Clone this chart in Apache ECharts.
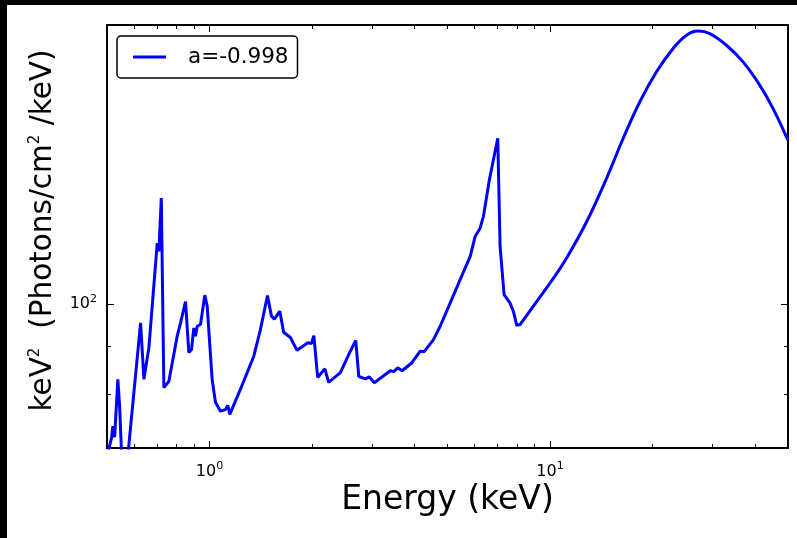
<!DOCTYPE html>
<html>
<head>
<meta charset="utf-8">
<script src="https://cdn.jsdelivr.net/npm/echarts@6/dist/echarts.min.js"></script>
<style>
    html, body { margin: 0; padding: 0; background: #000; }
    #main { position: absolute; left: 7px; top: 5px; width: 790px; height: 533px; background: #fff; }
</style>
</head>
<body>
<div id="main"></div>
<script>
var seriesName = 'a=-0.998';

// energy (keV) and keV^2 flux
var energy = [0.505, 0.516, 0.520, 0.5265, 0.538, 0.5445, 0.5546, 0.5697, 0.6275, 0.6417,
    0.6637, 0.7023, 0.710, 0.7218, 0.7345, 0.7597, 0.8038, 0.8222, 0.8503, 0.8696,
    0.8856, 0.8994, 0.9097, 0.9203, 0.941, 0.9687, 0.9846, 1.018, 1.041, 1.077,
    1.114, 1.132, 1.147, 1.233, 1.349, 1.411, 1.480, 1.520, 1.551, 1.609,
    1.651, 1.728, 1.808, 1.945, 1.992, 2.025, 2.078, 2.182, 2.238, 2.423,
    2.592, 2.689, 2.744, 2.868, 2.946, 3.047, 3.396, 3.476, 3.571, 3.681,
    3.930, 4.157, 4.271, 4.548, 4.758, 5.09, 5.446, 5.83, 6.026, 6.233,
    6.375, 6.637, 7.024, 7.135, 7.330, 7.632, 7.805, 7.985, 8.166, 10.0,
    11.19, 12.82, 14.67, 16.41, 18.36, 20.55, 22.99, 25.17, 27.22, 29.46,
    32.98, 36.89, 41.29, 45.17, 49.9];
var flux = [69.5, 71.9, 73.9, 71.9, 83.0, 77.7, 66, 66, 95.5, 83.0,
    89.8, 116.4, 114.0, 130.2, 81.3, 82.6, 92.4, 95.5, 100.7, 88.7,
    89.4, 94.3, 92.4, 94.7, 95.1, 102.3, 99.5, 83.0, 78.4, 76.7,
    77.0, 77.8, 76.1, 81.0, 87.9, 93.9, 102.2, 97.1, 96.4, 98.3,
    93.3, 92.1, 89.2, 90.9, 90.7, 92.5, 83.4, 85.2, 82.4, 84.4,
    89.0, 91.4, 83.6, 83.1, 83.5, 82.3, 84.8, 84.6, 85.4, 84.8,
    86.5, 89.0, 88.9, 91.6, 94.7, 100.3, 106.3, 112.6, 118.3, 120.8,
    124.4, 136.2, 151.0, 115.5, 102.4, 100.3, 98.3, 94.9, 95.1, 105.4,
    112.2, 122.8, 136.8, 151.0, 165.3, 178.1, 188.7, 195.0, 197.0, 195.8,
    190.2, 182.5, 172.3, 162.6, 150.4];

// the line (no sharp features) is smooth from this energy on
var smoothFrom = 10.0;

var xMajorTicks = [1, 10];
var xMinorTicks = [0.6, 0.7, 0.8, 0.9, 2, 3, 4, 5, 6, 7, 8, 9, 20, 30, 40];
var yMajorTicks = [100];
var yMinorTicks = [80, 90];
var xMin = 0.5, xMax = 50, yMin = 70, yMax = 200;

var font = 'DejaVu Sans';
var supRich = {
    b: {fontSize: 16, color: '#000', fontFamily: font},
    s: {fontSize: 11, color: '#000', fontFamily: font, padding: [0, 0, 10, 0]}
};

function powLabel(v) {
    return '{b|10}{s|' + Math.round(Math.log(v) / Math.LN10) + '}';
}

function xAxisOf(position, ticks, len, withLabel) {
    return {
        type: 'log', logBase: 10, min: xMin, max: xMax, position: position,
        axisLine: {show: false},
        splitLine: {show: false},
        axisTick: {inside: true, length: len, customValues: ticks, lineStyle: {color: '#000', width: 1}},
        axisLabel: withLabel ? {customValues: ticks, formatter: powLabel, rich: supRich, margin: 13}
            : {show: false}
    };
}

function yAxisOf(position, ticks, len, withLabel) {
    return {
        type: 'log', logBase: 10, min: yMin, max: yMax, position: position,
        axisLine: {show: false},
        splitLine: {show: false},
        axisTick: {inside: true, length: len, customValues: ticks, lineStyle: {color: '#000', width: 1}},
        axisLabel: withLabel ? {customValues: ticks, formatter: powLabel, rich: supRich, margin: 10}
            : {show: false}
    };
}

var xBottom = xAxisOf('bottom', xMajorTicks, 7, true);
xBottom.name = 'Energy (keV)';
xBottom.nameLocation = 'middle';
xBottom.nameGap = 32;
xBottom.nameTextStyle = {fontSize: 33, color: '#000', fontFamily: font};

var yLeft = yAxisOf('left', yMajorTicks, 7, true);
yLeft.name = 'keV{s|2}  (Photons/cm{s|2} /keV)';
yLeft.nameLocation = 'middle';
yLeft.nameGap = 47;
yLeft.nameTextStyle = {
    fontSize: 29.5, color: '#000', fontFamily: font, padding: [0, 0, 0, 12],
    rich: {s: {fontSize: 15, color: '#000', fontFamily: font, padding: [0, 0, 17, 0]}}
};

var sharpPart = [], smoothPart = [];
energy.forEach(function (e, i) {
    if (e <= smoothFrom) sharpPart.push([e, flux[i]]);
    if (e >= smoothFrom) smoothPart.push([e, flux[i]]);
});

var lineStyle = {color: '#0000ff', width: 3};

var chart = echarts.init(document.getElementById('main'));
chart.setOption({
    animation: false,
    backgroundColor: '#fff',
    grid: {left: 100, top: 20, width: 681, height: 423, show: true, borderColor: '#000', borderWidth: 2},
    legend: {
        left: 110, top: 31,
        padding: [10, 9, 10, 16],
        borderColor: '#000', borderWidth: 1.5, borderRadius: 4, backgroundColor: '#fff',
        icon: 'rect', itemWidth: 33, itemHeight: 3,
        textStyle: {fontSize: 21.5, color: '#000', fontFamily: font, padding: [0, 0, 0, 17]},
        data: [seriesName]
    },
    xAxis: [
        xBottom,
        xAxisOf('bottom', xMinorTicks, 4, false),
        xAxisOf('top', xMajorTicks, 7, false),
        xAxisOf('top', xMinorTicks, 4, false)
    ],
    yAxis: [
        yLeft,
        yAxisOf('left', yMinorTicks, 4, false),
        yAxisOf('right', yMajorTicks, 7, false),
        yAxisOf('right', yMinorTicks, 4, false)
    ],
    series: [{
        name: seriesName,
        type: 'line',
        data: sharpPart,
        symbol: 'none',
        clip: true,
        lineStyle: lineStyle,
        itemStyle: {color: '#0000ff'}
    }, {
        name: seriesName,
        type: 'line',
        data: smoothPart,
        symbol: 'none',
        smooth: 0.4,
        clip: true,
        lineStyle: lineStyle,
        itemStyle: {color: '#0000ff'}
    }]
});
</script>
</body>
</html>
